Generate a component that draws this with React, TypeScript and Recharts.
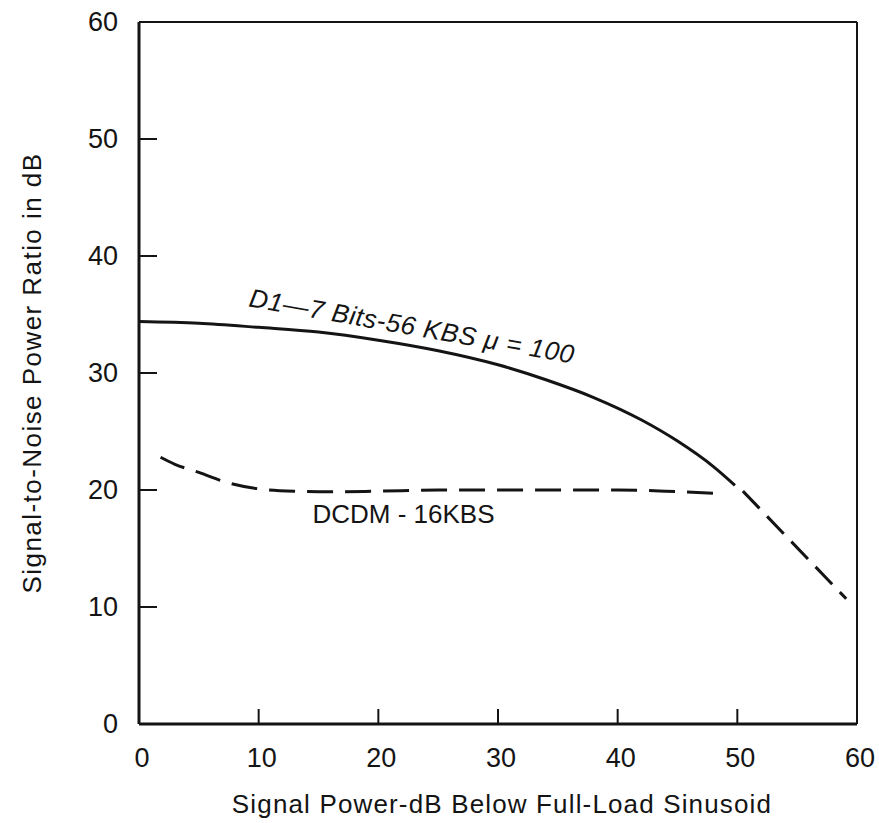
import React from 'react';
import { LineChart, Line, XAxis, YAxis, ReferenceLine, ReferenceDot } from 'recharts';

const xTicks = [0, 10, 20, 30, 40, 50, 60];
const yTicks = [0, 10, 20, 30, 40, 50, 60];

const d1X = [0, 5, 10, 15, 20, 25, 30, 34, 38, 42, 45, 48, 49.8];
const d1Y = [34.4, 34.25, 33.9, 33.5, 32.8, 31.9, 30.7, 29.42, 27.9, 25.98, 24.18, 22.0, 20.4];

const dcdmX = [1.8, 3, 5, 7.5, 10, 13, 16, 20, 25, 30, 35, 40, 44, 48.3];
const dcdmY = [22.8, 22.2, 21.5, 20.6, 20.1, 19.9, 19.85, 19.9, 20.0, 20.0, 20.0, 20.0, 19.9, 19.7];

const extX = [50, 59.1];
const extY = [20.4, 10.7];

const d1Label = 'D1\u20147 Bits-56 KBS \u03bc = 100';
const d1LabelAt = { x: 9.1, y: 35.7 };
const dcdmLabel = 'DCDM - 16KBS';
const dcdmLabelAt = { x: 14.5, y: 17.2 };

const xTitle = 'Signal Power-dB Below Full-Load Sinusoid';
const yTitle = 'Signal-to-Noise Power Ratio in dB';

const toPts = (xs: number[], ys: number[]) => xs.map((x, i) => ({ x, y: ys[i] }));
const d1Data = toPts(d1X, d1Y);
const dcdmData = toPts(dcdmX, dcdmY);
const extData = toPts(extX, extY);

const FONT = '"Liberation Sans", Arial, Helvetica, sans-serif';
const INK = '#141414';

const XTick = (props: any) => {
  const { x, y, payload } = props;
  const v = payload.value;
  return (
    <g>
      {v > 0 && v < 60 && <line x1={x} x2={x} y1={y} y2={y - 15} stroke={INK} strokeWidth={2} />}
      <text x={x + 3} y={y + 43} textAnchor="middle" fontFamily={FONT} fontSize={27} fill={INK}>{v}</text>
    </g>
  );
};

const YTick = (props: any) => {
  const { x, y, payload } = props;
  const v = payload.value;
  return (
    <g>
      {v > 0 && v < 60 && <line x1={x} x2={x + 18} y1={y} y2={y} stroke={INK} strokeWidth={2} />}
      <text x={x - 21} y={y + 9} textAnchor="end" fontFamily={FONT} fontSize={27} fill={INK}>{v}</text>
    </g>
  );
};

export default function App() {
  return (
    <div style={{ position: 'absolute', left: 0, top: 0, background: '#fff' }}>
      <LineChart width={879} height={823} margin={{ top: 22, right: 22, bottom: 0, left: 0 }}>
        <XAxis
          type="number"
          dataKey="x"
          domain={[0, 60]}
          ticks={xTicks}
          height={99}
          tickSize={0}
          tickMargin={0}
          tickLine={false}
          axisLine={{ stroke: INK, strokeWidth: 3 }}
          tick={<XTick />}
          allowDataOverflow
          label={{
            content: (p: any) => {
              const vb = p.viewBox;
              return (
                <text x={vb.x + vb.width / 2 + 4} y={vb.y + 89} textAnchor="middle" fontFamily={FONT} fontSize={26} fill={INK} letterSpacing={1.15}>
                  {xTitle}
                </text>
              );
            },
          }}
        />
        <YAxis
          type="number"
          dataKey="y"
          domain={[0, 60]}
          ticks={yTicks}
          width={139}
          tickSize={0}
          tickMargin={0}
          tickLine={false}
          axisLine={{ stroke: INK, strokeWidth: 3 }}
          tick={<YTick />}
          allowDataOverflow
          label={{
            content: (p: any) => {
              const vb = p.viewBox;
              const cx = vb.x + 41;
              const cy = vb.y + vb.height / 2;
              return (
                <text x={cx} y={cy} transform={`rotate(-90, ${cx}, ${cy})`} textAnchor="middle" fontFamily={FONT} fontSize={26} fill={INK} letterSpacing={1.45}>
                  {yTitle}
                </text>
              );
            },
          }}
        />
        <ReferenceLine y={60} stroke={INK} strokeWidth={2} />
        <ReferenceLine x={60} stroke={INK} strokeWidth={2} />
        <Line data={d1Data} dataKey="y" type="monotone" stroke={INK} strokeWidth={3} dot={false} isAnimationActive={false} />
        <Line data={dcdmData} dataKey="y" type="monotone" stroke={INK} strokeWidth={3} strokeDasharray="26 12" dot={false} isAnimationActive={false} />
        <Line data={extData} dataKey="y" type="linear" stroke={INK} strokeWidth={3} strokeDasharray="24 11" strokeDashoffset={-8} dot={false} isAnimationActive={false} />
        <ReferenceDot
          x={d1LabelAt.x}
          y={d1LabelAt.y}
          r={0}
          shape={(p: any) => (
            <text x={p.cx} y={p.cy} transform={`rotate(10, ${p.cx}, ${p.cy})`} fontFamily={FONT} fontStyle="italic" fontSize={26} letterSpacing={0.6} fill={INK}>
              {d1Label}
            </text>
          )}
        />
        <ReferenceDot
          x={dcdmLabelAt.x}
          y={dcdmLabelAt.y}
          r={0}
          shape={(p: any) => (
            <text x={p.cx} y={p.cy} fontFamily={FONT} fontSize={26} fill={INK}>
              {dcdmLabel}
            </text>
          )}
        />
      </LineChart>
    </div>
  );
}
